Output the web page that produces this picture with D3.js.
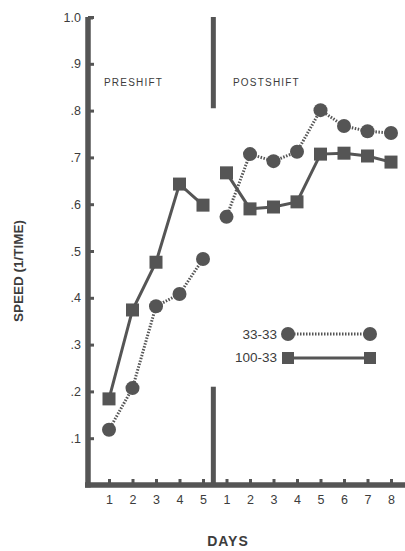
<!DOCTYPE html>
<html lang="en">
<head>
    <meta charset="UTF-8">
    <title>Speed preshift / postshift</title>
    <style>
        body { margin: 0; padding: 0; background: #fff; }
        svg { display: block; }
        text { font-family: 'Liberation Sans', Arial, sans-serif; fill: #3c3c3c; }
        .axis line { stroke: #555; }
        .axis text { font-size: 12.5px; fill: #3c3c3c; }
    </style>
</head>
<body>
    <svg id="chart"></svg>
    <script src="https://d3js.org/d3.v7.min.js"></script>
    <script>
        // Data
        const preDays = [1, 2, 3, 4, 5];
        const postDays = [1, 2, 3, 4, 5, 6, 7, 8];
        const yTicks = [0.1, 0.2, 0.3, 0.4, 0.5, 0.6, 0.7, 0.8, 0.9, 1.0];
        const pre33 = [0.118, 0.207, 0.382, 0.408, 0.483];
        const post33 = [0.573, 0.707, 0.692, 0.712, 0.801, 0.767, 0.756, 0.752];
        const pre100 = [0.184, 0.374, 0.476, 0.643, 0.598];
        const post100 = [0.667, 0.590, 0.594, 0.605, 0.707, 0.709, 0.703, 0.690];

        const width = 405, height = 551;
        const ink = '#555';

        const svg = d3.select('#chart')
            .attr('width', width)
            .attr('height', height);

        // scales: pre days sit at 0..4, post days at 5..12
        const x = d3.scaleLinear().domain([0, 12]).range([109, 391]);
        const y = d3.scaleLinear().domain([0, 1]).range([485, 17]);
        const preX = d => x(d - 1);
        const postX = d => x(d + 4);
        const shiftX = x(4.44);
        const axisX = 88;

        // y axis
        const yAxis = svg.append('g')
            .attr('class', 'axis')
            .attr('transform', `translate(${axisX},0)`)
            .call(d3.axisLeft(y)
                .tickValues(yTicks)
                .tickSizeInner(-6)
                .tickSizeOuter(0)
                .tickPadding(7)
                .tickFormat(d => d >= 1 ? '1.0' : '.' + Math.round(d * 10)));
        yAxis.select('.domain').remove();
        yAxis.selectAll('.tick line').attr('stroke-width', 3);

        // x axis (two groups of day labels)
        const xTicks = preDays.map(preX).concat(postDays.map(postX));
        const xLabels = preDays.concat(postDays);
        const xAxis = svg.append('g')
            .attr('class', 'axis')
            .attr('transform', `translate(0,${y(0)})`)
            .call(d3.axisBottom(x)
                .tickValues(xTicks.map(v => x.invert(v)))
                .tickSizeInner(-6)
                .tickSizeOuter(0)
                .tickPadding(10)
                .tickFormat((d, i) => xLabels[i]));
        xAxis.select('.domain').remove();
        xAxis.selectAll('.tick line').attr('stroke-width', 3);

        // heavy axis bars
        svg.append('line')
            .attr('x1', axisX).attr('x2', axisX)
            .attr('y1', y(1)).attr('y2', y(0) + 2.5)
            .attr('stroke', ink).attr('stroke-width', 5.5);
        svg.append('line')
            .attr('x1', axisX - 3).attr('x2', width)
            .attr('y1', y(0)).attr('y2', y(0))
            .attr('stroke', ink).attr('stroke-width', 5.5);
        svg.append('line')
            .attr('x1', axisX).attr('x2', axisX + 5)
            .attr('y1', y(1) + 1).attr('y2', y(1) + 1)
            .attr('stroke', ink).attr('stroke-width', 3);

        // shift divider
        svg.append('line')
            .attr('x1', shiftX).attr('x2', shiftX)
            .attr('y1', y(1)).attr('y2', y(0.805))
            .attr('stroke', ink).attr('stroke-width', 5);
        svg.append('line')
            .attr('x1', shiftX).attr('x2', shiftX)
            .attr('y1', y(0.21)).attr('y2', y(0))
            .attr('stroke', ink).attr('stroke-width', 5);

        svg.append('text')
            .attr('x', 104).attr('y', 86)
            .attr('font-size', 10).attr('letter-spacing', 1.2)
            .text('PRESHIFT');
        svg.append('text')
            .attr('x', 233).attr('y', 86)
            .attr('font-size', 10).attr('letter-spacing', 1.2)
            .text('POSTSHIFT');

        // series
        const line = d3.line().x(d => d[0]).y(d => y(d[1]));
        const segments = [
            { pts: preDays.map((d, i) => [preX(d), pre100[i]]), shape: 'square' },
            { pts: postDays.map((d, i) => [postX(d), post100[i]]), shape: 'square' },
            { pts: preDays.map((d, i) => [preX(d), pre33[i]]), shape: 'circle' },
            { pts: postDays.map((d, i) => [postX(d), post33[i]]), shape: 'circle' }
        ];

        segments.forEach(s => {
            svg.append('path')
                .attr('d', line(s.pts))
                .attr('fill', 'none')
                .attr('stroke', ink)
                .attr('stroke-width', 3)
                .attr('stroke-dasharray', s.shape === 'circle' ? '1.5,1.5' : null);
        });
        segments.forEach(s => {
            if (s.shape === 'circle') {
                svg.selectAll(null).data(s.pts).enter().append('circle')
                    .attr('cx', d => d[0]).attr('cy', d => y(d[1]))
                    .attr('r', 7).attr('fill', ink);
            } else {
                svg.selectAll(null).data(s.pts).enter().append('rect')
                    .attr('x', d => d[0] - 6.5).attr('y', d => y(d[1]) - 6.5)
                    .attr('width', 13).attr('height', 13).attr('fill', ink);
            }
        });

        // legend
        const legend = svg.append('g');
        legend.append('text').attr('x', 277).attr('y', 339)
            .attr('text-anchor', 'end').attr('font-size', 13.5).text('33-33');
        legend.append('line').attr('x1', 288).attr('x2', 370).attr('y1', 334).attr('y2', 334)
            .attr('stroke', ink).attr('stroke-width', 3).attr('stroke-dasharray', '1.5,1.5');
        legend.selectAll(null).data([288, 370]).enter().append('circle')
            .attr('cx', d => d).attr('cy', 334).attr('r', 7).attr('fill', ink);
        legend.append('text').attr('x', 277).attr('y', 362)
            .attr('text-anchor', 'end').attr('font-size', 13.5).text('100-33');
        legend.append('line').attr('x1', 288).attr('x2', 370).attr('y1', 358).attr('y2', 358)
            .attr('stroke', ink).attr('stroke-width', 3);
        legend.selectAll(null).data([288, 370]).enter().append('rect')
            .attr('x', d => d - 6).attr('y', 352).attr('width', 12).attr('height', 12).attr('fill', ink);

        // axis titles
        svg.append('text')
            .attr('transform', 'translate(23,271) rotate(-90)')
            .attr('text-anchor', 'middle')
            .attr('font-size', 13.5).attr('font-weight', 'bold')
            .text('SPEED (1/TIME)');
        svg.append('text')
            .attr('x', 228).attr('y', 546)
            .attr('text-anchor', 'middle')
            .attr('font-size', 14).attr('font-weight', 'bold').attr('letter-spacing', 1)
            .text('DAYS');
    </script>
</body>
</html>
